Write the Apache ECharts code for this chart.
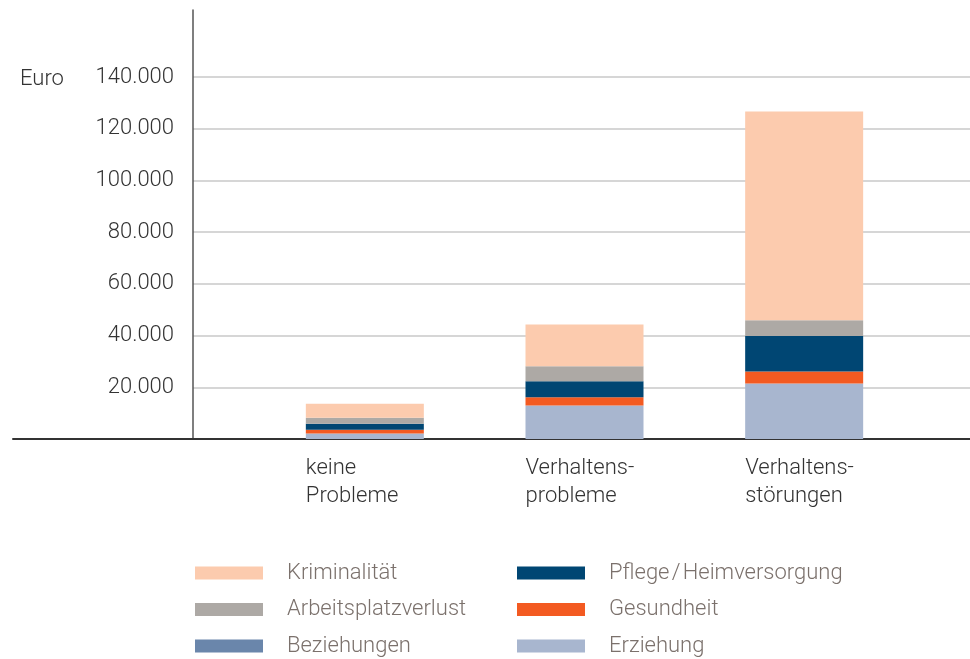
<!DOCTYPE html>
<html>
<head>
<meta charset="utf-8">
<title>Kosten nach Verhaltensgruppe</title>
<script src="https://cdn.jsdelivr.net/npm/echarts@6/dist/echarts.min.js"></script>
<style>
  html, body { margin: 0; padding: 0; background: #fff; }
  #chart { width: 970px; height: 659px; }
</style>
</head>
<body>
<div id="chart"></div>
<script>
// Werte (Euro)
const categories = ["keine\nProbleme", "Verhaltens-\nprobleme", "Verhaltens-\nstörungen"];
const erziehung = [2100, 13000, 21500];
const beziehungen = [0, 0, 0];
const gesundheit = [1500, 3100, 4600];
const pflege = [2300, 6200, 13700];
const arbeitsplatz = [2300, 5800, 6100];
const kriminalitaet = [5400, 16200, 80800];
const yTicks = { min: 0, max: 140000, step: 20000 };

const FONT = "Roboto";
const PFLEGE = "Pflege\u200A/\u200AHeimversorgung";

function fmt(v) {
  if (v === 0) return "";
  return String(v).replace(/\B(?=(\d{3})+(?!\d))/g, ".");
}

const chart = echarts.init(document.getElementById("chart"));

function stackBar(name, data, color) {
  return {
    name: name,
    type: "bar",
    stack: "total",
    xAxisIndex: 1,
    yAxisIndex: 1,
    barWidth: 118,
    data: data,
    itemStyle: { color: color },
    emphasis: { disabled: true },
  };
}

function legendCol(left, names) {
  return {
    orient: "vertical",
    left: left,
    top: 560,
    height: 120,
    padding: 0,
    itemWidth: 68,
    itemHeight: 13,
    itemGap: 10.5,
    icon: "rect",
    selectedMode: false,
    data: names,
    textStyle: {
      fontFamily: FONT, fontWeight: 300, fontSize: 22, lineHeight: 26,
      color: "#7b716c", padding: [0, 0, 0, 19],
    },
  };
}

const hidden = { show: false };

chart.setOption({
  animation: false,
  title: {
    text: "Euro",
    left: 15,
    top: 63,
    textStyle: { fontFamily: FONT, fontWeight: 300, fontSize: 22, color: "#333" },
  },
  grid: [
    { left: 193, right: 0, top: 77, bottom: 220 }, // Gitterlinien + Beschriftung
    { left: 255, right: 56, top: 77, bottom: 220 }, // Balken
    { left: 196, right: 115, top: 77, bottom: 220 }, // Kategorietexte
    { left: 13, right: 0, top: 77, bottom: 220 }, // x-Achsenlinie
    { left: 193, right: 0, top: 10, bottom: 220 }, // y-Achsenlinie
  ],
  xAxis: [
    { gridIndex: 0, type: "value", show: false },
    { gridIndex: 1, type: "category", data: categories, show: false },
    {
      gridIndex: 2,
      type: "category",
      data: categories,
      axisLine: hidden,
      axisTick: hidden,
      axisLabel: {
        align: "left",
        margin: 15,
        fontFamily: FONT,
        fontWeight: 300,
        fontSize: 22,
        lineHeight: 28,
        color: "#333",
      },
    },
    {
      gridIndex: 3,
      type: "value",
      min: 0,
      max: 1,
      axisLine: { show: true, lineStyle: { color: "#333", width: 2 } },
      axisTick: hidden,
      axisLabel: hidden,
      splitLine: hidden,
    },
    { gridIndex: 4, type: "value", show: false },
  ],
  yAxis: [
    {
      gridIndex: 0,
      type: "value",
      min: yTicks.min,
      max: yTicks.max,
      interval: yTicks.step,
      axisLine: hidden,
      axisTick: hidden,
      axisLabel: {
        formatter: fmt,
        margin: 19,
        fontFamily: FONT,
        fontWeight: 300,
        fontSize: 22,
        color: "#333",
      },
      splitLine: { lineStyle: { color: "#c9c9c9", width: 1.5 } },
    },
    { gridIndex: 1, type: "value", min: yTicks.min, max: yTicks.max, show: false },
    { gridIndex: 2, type: "value", show: false },
    { gridIndex: 3, type: "value", show: false },
    {
      gridIndex: 4,
      type: "value",
      min: 0,
      max: 1,
      axisLine: { show: true, lineStyle: { color: "#555", width: 1.5 } },
      axisTick: hidden,
      axisLabel: hidden,
      splitLine: hidden,
    },
  ],
  legend: [
    legendCol(195, ["Kriminalität", "Arbeitsplatzverlust", "Beziehungen"]),
    legendCol(517, [PFLEGE, "Gesundheit", "Erziehung"]),
  ],
  series: [
    stackBar("Erziehung", erziehung, "#a8b6cf"),
    stackBar("Beziehungen", beziehungen, "#6a86ab"),
    stackBar("Gesundheit", gesundheit, "#f35a21"),
    stackBar(PFLEGE, pflege, "#004673"),
    stackBar("Arbeitsplatzverlust", arbeitsplatz, "#ada9a5"),
    stackBar("Kriminalität", kriminalitaet, "#fccbae"),
  ],
});
</script>
</body>
</html>
